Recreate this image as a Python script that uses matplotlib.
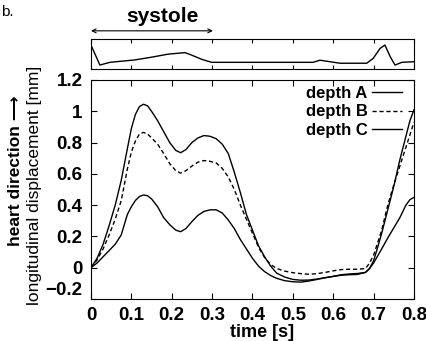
import matplotlib.pyplot as plt
import numpy as np

# ===========================================================
# Data
# ===========================================================

t = np.array([0, 0.015, 0.03, 0.045, 0.06, 0.075, 0.09, 0.1, 0.11, 0.12,
              0.13, 0.14, 0.15, 0.165, 0.18, 0.195, 0.21, 0.222, 0.235, 0.25,
              0.265, 0.28, 0.295, 0.31, 0.325, 0.34, 0.355, 0.37, 0.385, 0.4,
              0.415, 0.43, 0.445, 0.46, 0.48, 0.5, 0.52, 0.54, 0.56, 0.58,
              0.6, 0.62, 0.64, 0.66, 0.68, 0.69, 0.70, 0.71, 0.72, 0.735,
              0.75, 0.765, 0.78, 0.79, 0.8])

depth_a = [0, 0.06, 0.15, 0.27, 0.40, 0.56, 0.76, 0.89, 0.98, 1.03,
           1.045, 1.035, 1.0, 0.94, 0.87, 0.80, 0.75, 0.735, 0.755, 0.80,
           0.83, 0.845, 0.84, 0.825, 0.79, 0.73, 0.61, 0.48, 0.34, 0.24,
           0.14, 0.07, 0.01, -0.035, -0.06, -0.075, -0.08, -0.079, -0.072, -0.064,
           -0.055, -0.045, -0.04, -0.037, -0.03, -0.005, 0.045, 0.13, 0.22, 0.37,
           0.52, 0.69, 0.84, 0.94, 1.01]

depth_b = [0, 0.05, 0.12, 0.21, 0.31, 0.43, 0.63, 0.74, 0.81, 0.855,
           0.865, 0.855, 0.83, 0.79, 0.73, 0.665, 0.62, 0.605, 0.62, 0.65,
           0.675, 0.685, 0.68, 0.67, 0.635, 0.58, 0.50, 0.40, 0.31, 0.22,
           0.13, 0.065, 0.02, -0.005, -0.022, -0.032, -0.038, -0.042, -0.038, -0.03,
           -0.02, -0.012, -0.01, -0.01, -0.005, 0.03, 0.08, 0.16, 0.24, 0.40,
           0.53, 0.65, 0.77, 0.85, 0.93]

depth_c = [0, 0.03, 0.07, 0.11, 0.15, 0.21, 0.34, 0.39, 0.43, 0.455,
           0.465, 0.46, 0.44, 0.39, 0.32, 0.275, 0.24, 0.23, 0.25, 0.295,
           0.335, 0.36, 0.37, 0.37, 0.35, 0.305, 0.25, 0.18, 0.12, 0.06,
           0.01, -0.025, -0.05, -0.068, -0.083, -0.09, -0.092, -0.085, -0.075, -0.064,
           -0.056, -0.048, -0.045, -0.043, -0.03, -0.005, 0.03, 0.075, 0.12, 0.19,
           0.255, 0.32, 0.40, 0.435, 0.45]

# top trace (arbitrary units)
t_top = [0, 0.022, 0.047, 0.109, 0.15, 0.191, 0.233, 0.249, 0.274, 0.299,
         0.406, 0.55, 0.567, 0.592, 0.617, 0.683, 0.699, 0.716, 0.728, 0.741,
         0.753, 0.77, 0.8]
v_top = [0.80, 0.14, 0.23, 0.31, 0.40, 0.50, 0.55, 0.47, 0.33, 0.23,
         0.23, 0.23, 0.30, 0.25, 0.20, 0.20, 0.36, 0.69, 0.80, 0.42,
         0.14, 0.23, 0.25]

xticks = [0, 0.1, 0.2, 0.3, 0.4, 0.5, 0.6, 0.7, 0.8]
yticks = [-0.2, 0, 0.2, 0.4, 0.6, 0.8, 1, 1.2]

plt.rcParams['font.family'] = ['Liberation Sans', 'DejaVu Sans']

# ===========================================================
# Figure
# ===========================================================

fig = plt.figure(figsize=(4.26, 3.41), dpi=100)
ax = fig.add_axes([0.2136, 0.1232, 0.7582, 0.6422])
ax_top = fig.add_axes([0.2136, 0.7968, 0.7582, 0.0888])

ax.plot(t, depth_a, color='black', lw=1.0, label='depth A')
ax.plot(t, depth_b, color='black', lw=1.0, ls=(0, (3, 2)), label='depth B')
ax.plot(t, depth_c, color='black', lw=1.0, label='depth C')

ax.set_xlim(0, 0.8)
ax.set_ylim(-0.2, 1.2)
ax.set_xticks(xticks)
ax.set_xticklabels(['0', '0.1', '0.2', '0.3', '0.4', '0.5', '0.6', '0.7', '0.8'])
ax.set_yticks(yticks)
ax.set_yticklabels(['\u22120.2', '0', '0.2', '0.4', '0.6', '0.8', '1', '1.2'])
ax.tick_params(direction='in', top=True, right=True, length=4, width=0.8,
               labelsize=13.5, pad=6)
for lab in ax.get_xticklabels() + ax.get_yticklabels():
    lab.set_fontweight('bold')
ax.get_yticklabels()[0].set_verticalalignment('bottom')

ax.set_xlabel('time [s]', fontsize=13, fontweight='bold')
ax.xaxis.set_label_coords(0.53, -0.115)

leg = ax.legend(loc='upper right', bbox_to_anchor=(0.99, 1.01), frameon=False,
                markerfirst=False, prop={'size': 12, 'weight': 'bold'},
                handlelength=1.8, handletextpad=0.3, labelspacing=0.2,
                borderaxespad=0.1)

# top panel
ax_top.plot(t_top, v_top, color='black', lw=1.0)
ax_top.set_xlim(0, 0.8)
ax_top.set_ylim(0, 1)
ax_top.set_xticks(xticks)
ax_top.set_yticks([])
ax_top.tick_params(direction='in', top=True, length=3, width=0.8,
                   labelbottom=False)

# systole arrow
ax_top.annotate('', xy=(0, 1.27), xytext=(0.302, 1.27),
                xycoords='data', textcoords='data', annotation_clip=False,
                arrowprops=dict(arrowstyle='<->', lw=0.8, color='black',
                                shrinkA=0, shrinkB=0, mutation_scale=7))
ax_top.text(0.178, 1.75, 'systole', ha='center', va='center', fontsize=15,
            fontweight='bold', clip_on=False)

# y labels
fig.text(0.036, 0.50, 'heart direction \u27f6', rotation=90, ha='center',
         va='center', fontsize=12.5, fontweight='bold')
fig.text(0.082, 0.457, 'longitudinal displacement [mm]', rotation=90,
         ha='center', va='center', fontsize=12.5)

fig.text(0.002, 0.965, 'b.', fontsize=11, ha='left', va='center')

fig.savefig('out.png', dpi=100)
